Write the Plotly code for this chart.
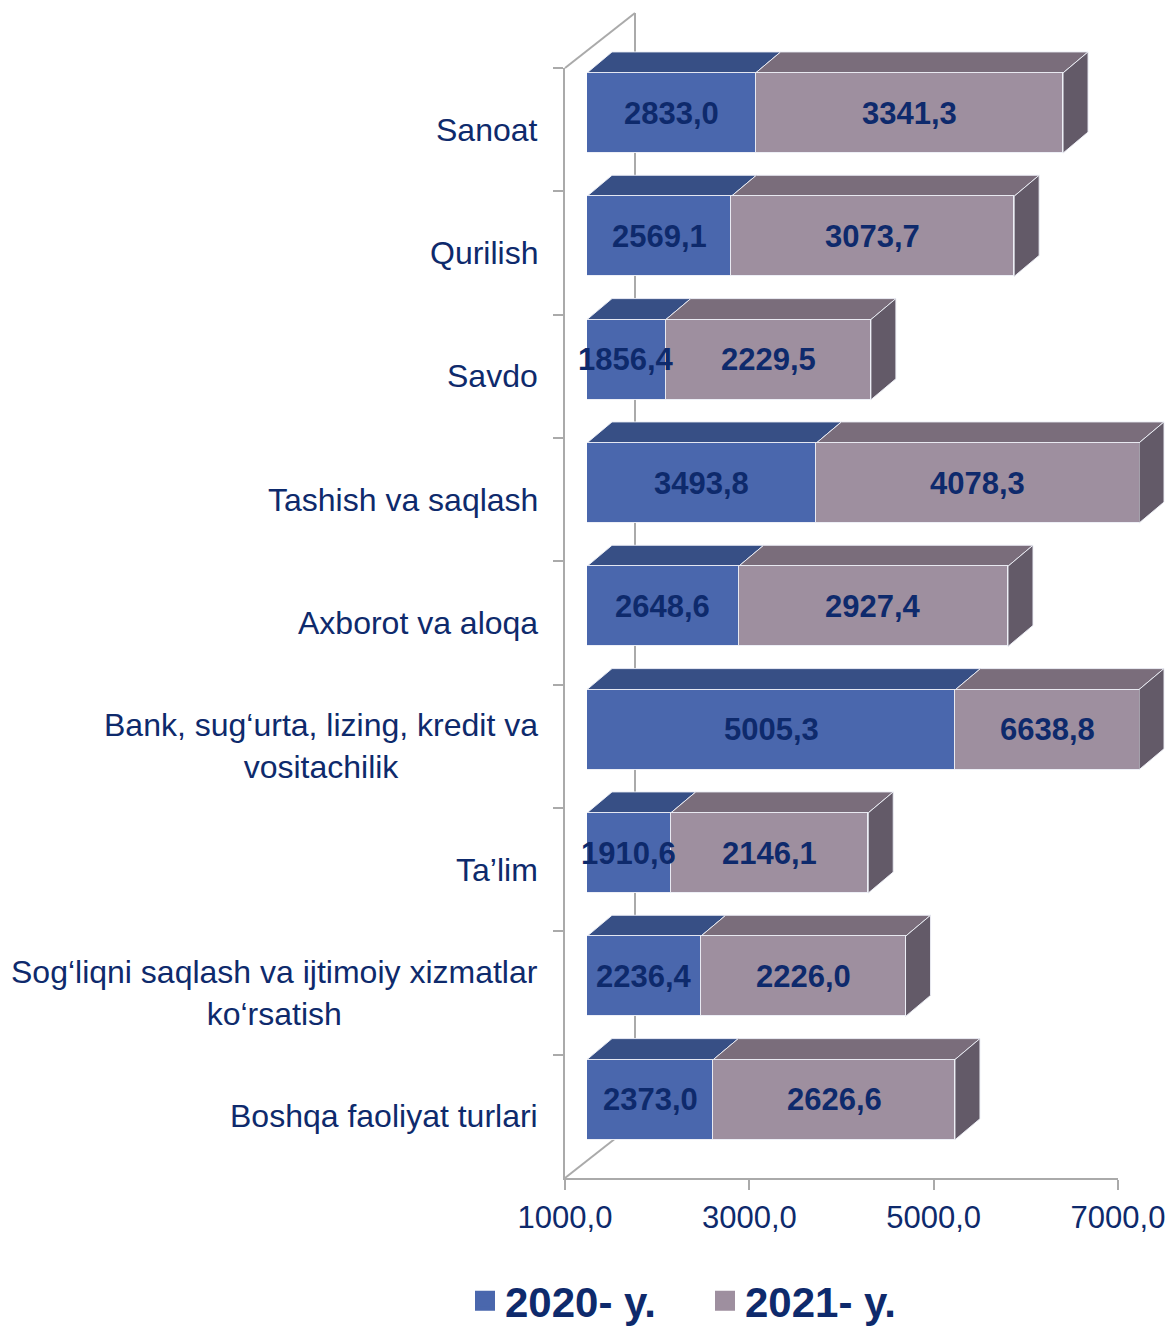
import plotly.graph_objects as go

# ---------------- data ----------------
categories = ["Sanoat", "Qurilish", "Savdo", "Tashish va saqlash", "Axborot va aloqa",
              "Bank", "Ta’lim", "Sog‘liqni saqlash", "Boshqa faoliyat turlari"]
category_labels = ["Sanoat", "Qurilish", "Savdo", "Tashish va saqlash", "Axborot va aloqa",
                   "Bank, sug‘urta, lizing, kredit va<br>vositachilik", "Ta’lim",
                   "Sog‘liqni saqlash va ijtimoiy xizmatlar<br>ko‘rsatish",
                   "Boshqa faoliyat turlari"]
values_2020 = [2833.0, 2569.1, 1856.4, 3493.8, 2648.6, 5005.3, 1910.6, 2236.4, 2373.0]
values_2021 = [3341.3, 3073.7, 2229.5, 4078.3, 2927.4, 6638.8, 2146.1, 2226.0, 2626.6]
series_names = ["2020- y.", "2021- y."]
x_tickvals = [1000, 3000, 5000, 7000]
x_ticktext = ["1000,0", "3000,0", "5000,0", "7000,0"]

# ---------------- style / geometry ----------------
W, H = 1169, 1330
X_MIN, X_MAX = 1000, 7000
FONT = "Liberation Sans, Arial, sans-serif"
NAVY = "#0e2a6c"
BLUE, BLUE_TOP = "#4a67ad", "#374f85"
GRAY, GRAY_TOP, GRAY_SIDE = "#9e8f9f", "#7a6d7b", "#635a68"
AXIS_GRAY = "#aaaaaa"
EDGE = "rgba(236,238,246,0.95)"

bar_x0_px, bar_x1_px = 587, 1139
axis_x0_px, axis_x1_px = 565, 1118
plot_top_px, plot_bot_px = 68, 1178
depth_dx_px, depth_dy_px = 25, 21
wall_dx_px, wall_dy_px = 70, 55
bar_shift = 0.135
bar_width = 0.65
n = len(categories)

xdom = [bar_x0_px / W, bar_x1_px / W]
x2dom = [axis_x0_px / W, axis_x1_px / W]
ydom = [1 - plot_bot_px / H, 1 - plot_top_px / H]
y_range = [n - 0.5 + bar_shift, -0.5 + bar_shift]
DX, DY = depth_dx_px / W, depth_dy_px / H


def clamp(v):
    return min(max(v, X_MIN), X_MAX)


def fx(v):
    return xdom[0] + (clamp(v) - X_MIN) / (X_MAX - X_MIN) * (xdom[1] - xdom[0])


def fy(c):
    return ydom[1] - (c - y_range[1]) / (y_range[0] - y_range[1]) * (ydom[1] - ydom[0])


def fmt(v):
    return f"{v:.1f}".replace(".", ",")


fig = go.Figure()

fig.add_trace(go.Bar(y=categories, x=values_2020, orientation="h", width=bar_width,
                     marker=dict(color=BLUE, line=dict(color=EDGE, width=1.5)),
                     showlegend=False, hoverinfo="skip"))
fig.add_trace(go.Bar(y=categories, x=values_2021, orientation="h", width=bar_width,
                     marker=dict(color=GRAY, line=dict(color=EDGE, width=1.5)),
                     showlegend=False, hoverinfo="skip"))

# invisible trace that carries the visible axes
fig.add_trace(go.Scatter(x=[X_MIN] * n, y=categories, xaxis="x2", yaxis="y2", mode="markers",
                         marker=dict(opacity=0), showlegend=False, hoverinfo="skip"))

# legend entries
for name, col in zip(series_names, [BLUE, GRAY]):
    fig.add_trace(go.Scatter(x=[None], y=[None], mode="markers", name=name,
                             marker=dict(symbol="square", size=20, color=col,
                                         line=dict(color=col, width=4)),
                             showlegend=True))

shapes = []
# left wall (3D box)
wx0, wy_top, wy_bot = x2dom[0], ydom[1], ydom[0]
wdx, wdy = wall_dx_px / W, wall_dy_px / H
for (a, b, c, d) in [(wx0, wy_top, wx0 + wdx, wy_top + wdy),
                     (wx0 + wdx, wy_top + wdy, wx0 + wdx, wy_bot + wdy),
                     (wx0, wy_bot, wx0 + wdx, wy_bot + wdy)]:
    shapes.append(dict(type="line", xref="paper", yref="paper", x0=a, y0=b, x1=c, y1=d,
                       line=dict(color=AXIS_GRAY, width=2), layer="below"))


def para(x0, y0, x1, y1, color):
    path = (f"M{x0},{y0} L{x1},{y1} L{x1 + DX},{y1 + DY} L{x0 + DX},{y0 + DY} Z")
    return dict(type="path", xref="paper", yref="paper", path=path, fillcolor=color,
                line=dict(color=EDGE, width=1), layer="below")


annotations = []
for i, (v1, v2) in enumerate(zip(values_2020, values_2021)):
    end1 = clamp(v1)
    end2 = clamp(v1 + v2)
    yt = fy(i - bar_width / 2)
    yb = fy(i + bar_width / 2)
    # top faces
    shapes.append(para(fx(X_MIN), yt, fx(end1), yt, BLUE_TOP))
    shapes.append(para(fx(end1), yt, fx(end2), yt, GRAY_TOP))
    # right side face
    xe = fx(end2)
    shapes.append(dict(type="path", xref="paper", yref="paper",
                       path=f"M{xe},{yt} L{xe},{yb} L{xe + DX},{yb + DY} L{xe + DX},{yt + DY} Z",
                       fillcolor=GRAY_SIDE, line=dict(color=EDGE, width=1), layer="below"))
    # value labels centred on the visible segment
    annotations.append(dict(x=(X_MIN + end1) / 2, y=categories[i], xref="x", yref="y",
                            text=fmt(v1), showarrow=False,
                            font=dict(family=FONT, size=31, color=NAVY, weight="bold")))
    annotations.append(dict(x=(end1 + end2) / 2, y=categories[i], xref="x", yref="y",
                            text=fmt(v2), showarrow=False,
                            font=dict(family=FONT, size=31, color=NAVY, weight="bold")))

# category labels
for cat, lab in zip(categories, category_labels):
    annotations.append(dict(x=(axis_x0_px - 25) / W, y=cat, xref="paper", yref="y2",
                            xanchor="right", align="center", text=lab, showarrow=False,
                            font=dict(family=FONT, size=32, color=NAVY)))

fig.update_layout(
    width=W, height=H,
    margin=dict(l=0, r=0, t=0, b=0, autoexpand=False),
    paper_bgcolor="white", plot_bgcolor="rgba(0,0,0,0)",
    barmode="stack", bargap=0,
    font=dict(family=FONT, color=NAVY),
    xaxis=dict(domain=xdom, range=[X_MIN, X_MAX], visible=False, fixedrange=True, anchor="y"),
    yaxis=dict(domain=ydom, type="category", categoryarray=categories, range=y_range,
               visible=False, fixedrange=True, anchor="x"),
    xaxis2=dict(domain=x2dom, range=[X_MIN, X_MAX], anchor="y2", side="bottom",
                tickvals=x_tickvals, ticktext=x_ticktext, ticks="outside", ticklen=10,
                tickwidth=2, tickcolor=AXIS_GRAY, showline=True, linecolor=AXIS_GRAY,
                linewidth=2, showgrid=False, zeroline=False, fixedrange=True,
                ticklabeloverflow="allow",
                tickfont=dict(family=FONT, size=31, color=NAVY), ticklabelstandoff=1),
    yaxis2=dict(domain=ydom, type="category", categoryarray=categories, range=[n - 0.5, -0.5],
                anchor="x2", side="left", tickson="boundaries", ticks="outside",
                ticklen=10, tickwidth=2, tickcolor=AXIS_GRAY, showline=True,
                linecolor=AXIS_GRAY, linewidth=2, showgrid=False, zeroline=False,
                showticklabels=False, fixedrange=True),
    legend=dict(orientation="h", x=705 / W, xanchor="center", y=1 - 1301 / H, yanchor="middle",
                traceorder="normal", entrywidth=195,
                font=dict(family=FONT, size=42, color=NAVY, weight="bold"),
                bgcolor="rgba(0,0,0,0)", itemclick=False),
    shapes=shapes,
    annotations=annotations,
)

fig.write_html("out.html", config={"displayModeBar": False},
               post_script="document.body.style.margin='0';document.body.style.overflow='hidden';")
